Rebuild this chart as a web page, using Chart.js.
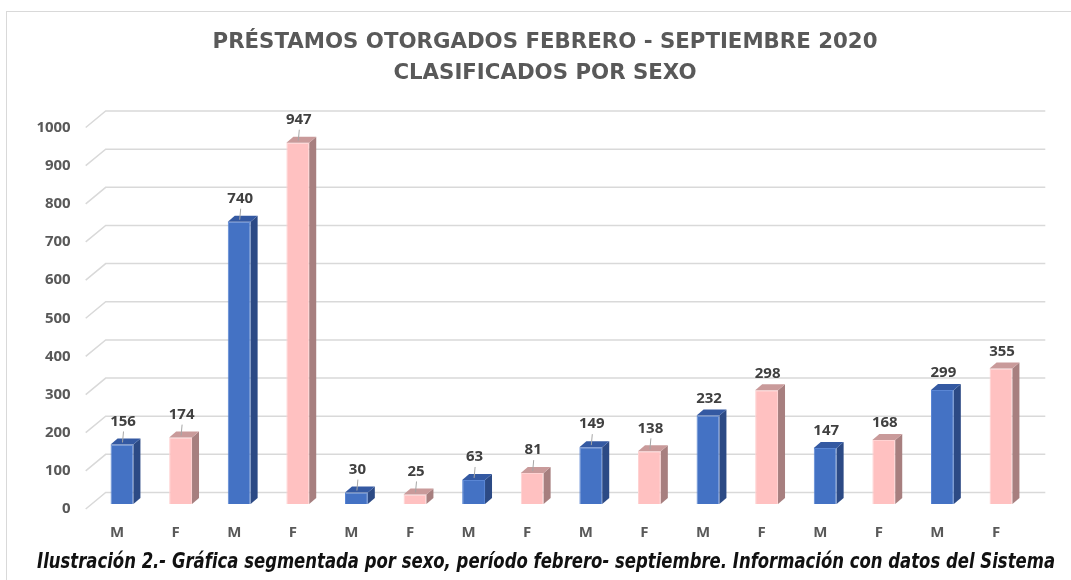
<!DOCTYPE html>
<html lang="es">
<head>
<meta charset="utf-8">
<title>Préstamos otorgados febrero - septiembre 2020</title>
<script src="https://cdn.jsdelivr.net/npm/chart.js@4.4.1/dist/chart.umd.min.js"></script>
<style>
    html, body { margin: 0; padding: 0; background: #fff; }
    #wrap { position: relative; width: 1071px; height: 580px; overflow: hidden; }
    #box { position: absolute; left: 6px; top: 11px; width: 1080px; height: 600px; border: 1px solid #d9d9d9; box-sizing: border-box; }
    #chart { position: absolute; left: 0; top: 0; }
    #caption {
        position: absolute; left: 37px; top: 548px; white-space: nowrap;
        font-family: "Liberation Sans Narrow", "DejaVu Sans Condensed", "Roboto", sans-serif;
        font-style: italic; font-weight: 700; font-size: 22px; color: #111;
        transform-origin: left top;
    }
</style>
</head>
<body>
<div id="wrap">
    <div id="box"></div>
    <canvas id="chart" width="1090" height="580"></canvas>
    <div id="caption">Ilustración 2.- Gráfica segmentada por sexo, período febrero- septiembre. Información con datos del Sistema</div>
</div>
<script>
// Datos
const etiquetas = ['M', 'F', 'M', 'F', 'M', 'F', 'M', 'F', 'M', 'F', 'M', 'F', 'M', 'F', 'M', 'F'];
const prestamos = [156, 174, 740, 947, 30, 25, 63, 81, 149, 138, 232, 298, 147, 168, 299, 355];
const ticksY = [0, 100, 200, 300, 400, 500, 600, 700, 800, 900, 1000];
const titulo = ['PRÉSTAMOS OTORGADOS FEBRERO - SEPTIEMBRE 2020', 'CLASIFICADOS POR SEXO'];

// Colores (frente, lado, techo) por sexo
const colores = {
    M: { frente: '#4472c4', lado: '#2c4a85', techo: '#3459a2', borde: '#5a86d4' },
    F: { frente: '#ffc1c1', lado: '#a77f7f', techo: '#c99a9a', borde: '#ffd2d2' }
};
// Barras cuya etiqueta lleva línea guía
const conGuia = [0, 1, 2, 3, 4, 5, 6, 7, 8, 9];

const PROF_X = 7, PROF_Y = 6;       // profundidad de la barra
const FONDO_X = 13, FONDO_Y = 11.5; // desplazamiento de la pared del fondo

// Cuadrícula en perspectiva (pared del fondo + diagonal del piso)
const cuadricula3d = {
    id: 'cuadricula3d',
    beforeDatasetsDraw(chart) {
        const ctx = chart.ctx, y = chart.scales.y, area = chart.chartArea;
        ctx.save();
        ctx.strokeStyle = '#d9d9d9';
        ctx.lineWidth = 1.5;
        ticksY.forEach(v => {
            const py = y.getPixelForValue(v);
            ctx.beginPath();
            ctx.moveTo(area.left - 7, py + 5);
            ctx.lineTo(area.left + FONDO_X, py - FONDO_Y);
            ctx.lineTo(area.right + 15, py - FONDO_Y);
            ctx.stroke();
        });
        ctx.restore();
    }
};

// Caras laterales, techo y etiquetas de valor
const barras3d = {
    id: 'barras3d',
    afterDatasetsDraw(chart) {
        const ctx = chart.ctx;
        const meta = chart.getDatasetMeta(0);
        ctx.save();
        meta.data.forEach((bar, i) => {
            const c = colores[etiquetas[i]];
            const l = bar.x - bar.width / 2, r = bar.x + bar.width / 2;
            const t = bar.y, b = bar.base;
            // lado
            ctx.fillStyle = c.lado;
            ctx.beginPath();
            ctx.moveTo(r, t);
            ctx.lineTo(r + PROF_X, t - PROF_Y);
            ctx.lineTo(r + PROF_X, b - PROF_Y);
            ctx.lineTo(r, b);
            ctx.closePath();
            ctx.fill();
            // techo
            ctx.fillStyle = c.techo;
            ctx.beginPath();
            ctx.moveTo(l, t);
            ctx.lineTo(l + PROF_X, t - PROF_Y);
            ctx.lineTo(r + PROF_X, t - PROF_Y);
            ctx.lineTo(r, t);
            ctx.closePath();
            ctx.fill();

            // etiqueta
            const guia = conGuia.includes(i);
            const ly = t - (guia ? 23 : 17);
            ctx.fillStyle = '#404040';
            ctx.font = 'bold 15px "Open Sans", sans-serif';
            ctx.textAlign = 'center';
            ctx.textBaseline = 'middle';
            ctx.fillText(String(prestamos[i]), bar.x + 1, ly);
            if (guia) {
                ctx.strokeStyle = '#a6a6a6';
                ctx.lineWidth = 1;
                ctx.beginPath();
                ctx.moveTo(bar.x + 1.5, ly + 10);
                ctx.lineTo(bar.x + 0.5, t - 2);
                ctx.stroke();
            }
        });
        ctx.restore();
    }
};

const ctx = document.getElementById('chart').getContext('2d');
new Chart(ctx, {
    type: 'bar',
    data: {
        labels: etiquetas,
        datasets: [{
            data: prestamos,
            backgroundColor: etiquetas.map(e => colores[e].frente),
            borderColor: etiquetas.map(e => colores[e].borde),
            borderWidth: 1,
            barPercentage: 0.39,
            categoryPercentage: 1
        }]
    },
    options: {
        responsive: false,
        animation: false,
        layout: { padding: { left: 0, right: 0, top: 11, bottom: 36 } },
        scales: {
            x: {
                grid: { display: false, drawTicks: false },
                border: { display: false },
                ticks: {
                    color: '#595959',
                    font: { family: '"Open Sans", sans-serif', size: 15, weight: 'bold' },
                    padding: 20,
                    labelOffset: -5,
                    maxRotation: 0,
                    autoSkip: false
                },
                afterFit(scale) { scale.height = 40; }
            },
            y: {
                min: 0,
                max: 1000,
                grid: { display: false, drawTicks: false },
                border: { display: false },
                ticks: {
                    stepSize: 100,
                    color: '#595959',
                    font: { family: '"Open Sans", sans-serif', size: 15, weight: 'bold' },
                    padding: 22,
                    labelOffset: 5,
                    callback: v => String(v)
                },
                afterFit(scale) { scale.width = 92.7; }
            },
            // eje vacío a la derecha: deja sitio a la pared del fondo
            yDer: {
                type: 'linear',
                position: 'right',
                display: true,
                grid: { display: false, drawTicks: false },
                border: { display: false },
                ticks: { display: false },
                afterFit(scale) { scale.width = 59.7; }
            }
        },
        plugins: {
            legend: { display: false },
            tooltip: { enabled: false },
            title: {
                display: true,
                text: titulo,
                color: '#595959',
                font: { family: '"DejaVu Sans", sans-serif', size: 21.3, weight: 'bold', lineHeight: 1.46 },
                padding: { top: 15.5, bottom: 33.8 }
            }
        }
    },
    plugins: [cuadricula3d, barras3d]
});

// Ajustar el pie al ancho del original
const cap = document.getElementById('caption');
const w = cap.getBoundingClientRect().width;
cap.style.transform = 'scaleX(' + (1018 / w) + ')';
</script>
</body>
</html>
